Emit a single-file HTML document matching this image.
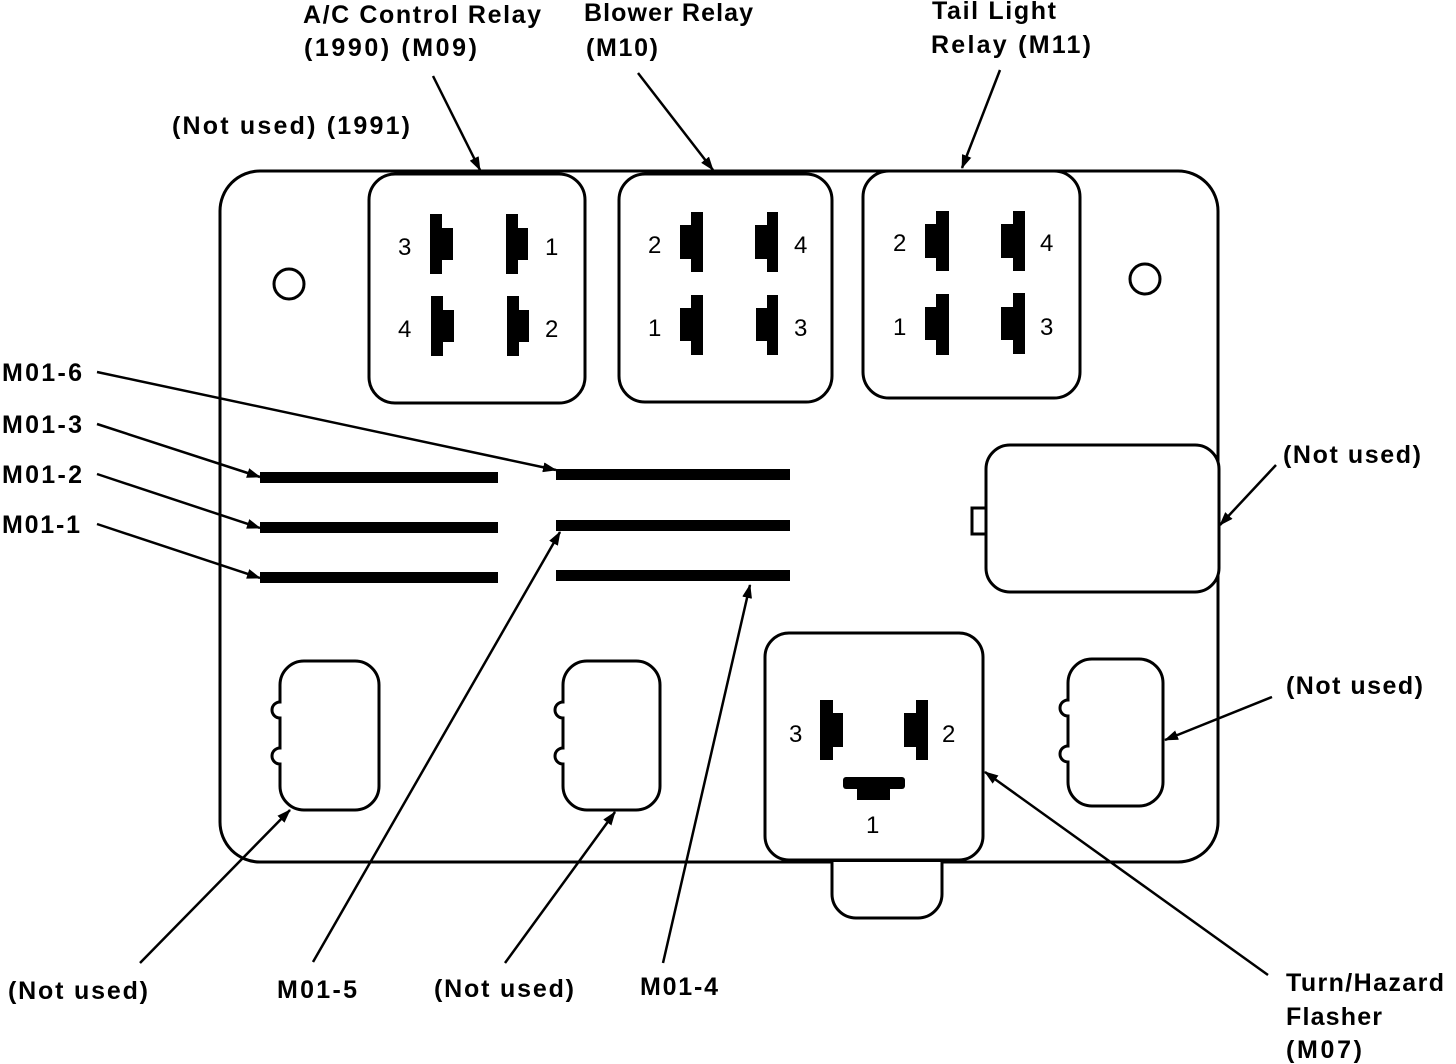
<!DOCTYPE html>
<html><head><meta charset="utf-8"><style>
html,body{margin:0;padding:0;background:#fff}
svg{display:block}
text{font-family:"Liberation Sans",sans-serif;font-weight:bold;font-size:25px;fill:#000}
text.n{font-size:24px;font-weight:normal}
</style></head><body>
<svg width="1456" height="1064" viewBox="0 0 1456 1064" xmlns="http://www.w3.org/2000/svg">
<defs>
<marker id="a" markerWidth="14" markerHeight="10" refX="13" refY="5" orient="auto" markerUnits="userSpaceOnUse">
<path d="M0,0 L14,5 L0,10 Z" fill="#000"/></marker>
</defs>
<g fill="none" stroke="#000" stroke-width="3">
<rect x="220" y="171" width="998" height="691" rx="40"/>
<path d="M832,862 v32 a24,24 0 0 0 24,24 h62 a24,24 0 0 0 24,-24 v-32" fill="#fff"/>
<rect x="369" y="174" width="216" height="229" rx="26" fill="#fff"/>
<rect x="619" y="174" width="213" height="228" rx="26" fill="#fff"/>
<rect x="863" y="171" width="217" height="227" rx="26" fill="#fff"/>
<circle cx="289" cy="284" r="15"/>
<circle cx="1145" cy="279" r="15"/>
<rect x="972" y="508" width="14" height="26"/>
<rect x="986" y="445" width="233" height="147" rx="24" fill="#fff"/>
<rect x="765" y="633" width="218" height="227" rx="24" fill="#fff"/>
<path d="M280,685 a24,24 0 0 1 24,-24 h51 a24,24 0 0 1 24,24 v101 a24,24 0 0 1 -24,24 h-51 a24,24 0 0 1 -24,-24 v-22 a8,8 0 0 1 0,-16 v-30 a8,8 0 0 1 0,-16 z"/>
<path d="M563,685 a24,24 0 0 1 24,-24 h49 a24,24 0 0 1 24,24 v101 a24,24 0 0 1 -24,24 h-49 a24,24 0 0 1 -24,-24 v-22 a8,8 0 0 1 0,-16 v-30 a8,8 0 0 1 0,-16 z"/>
<path d="M1068,683 a24,24 0 0 1 24,-24 h47 a24,24 0 0 1 24,24 v99 a24,24 0 0 1 -24,24 h-47 a24,24 0 0 1 -24,-24 v-20 a8,8 0 0 1 0,-16 v-30 a8,8 0 0 1 0,-16 z"/>
</g>
<g fill="#000">
<rect x="430" y="214" width="12" height="60"/><rect x="442" y="228" width="11" height="32"/>
<rect x="506" y="214" width="12" height="60"/><rect x="518" y="228" width="10" height="32"/>
<rect x="431" y="296" width="12" height="60"/><rect x="443" y="310" width="11" height="32"/>
<rect x="507" y="296" width="12" height="60"/><rect x="519" y="310" width="10" height="32"/>
<rect x="691" y="212" width="12" height="60"/><rect x="680" y="225" width="11" height="34"/>
<rect x="767" y="212" width="11" height="60"/><rect x="755" y="225" width="12" height="34"/>
<rect x="691" y="295" width="12" height="60"/><rect x="680" y="308" width="11" height="33"/>
<rect x="767" y="295" width="11" height="60"/><rect x="756" y="308" width="11" height="33"/>
<rect x="936" y="211" width="13" height="60"/><rect x="925" y="224" width="11" height="34"/>
<rect x="1013" y="211" width="12" height="60"/><rect x="1001" y="224" width="12" height="34"/>
<rect x="936" y="294" width="13" height="61"/><rect x="925" y="307" width="11" height="33"/>
<rect x="1013" y="293" width="12" height="61"/><rect x="1001" y="307" width="12" height="33"/>
<rect x="820" y="700" width="13" height="60"/><rect x="833" y="713" width="10" height="34"/>
<rect x="916" y="700" width="12" height="60"/><rect x="904" y="713" width="12" height="34"/>
<rect x="843" y="777" width="62" height="12" rx="3"/><rect x="857" y="788" width="33" height="12"/>
<rect x="260" y="472" width="238" height="11"/>
<rect x="260" y="522" width="238" height="11"/>
<rect x="260" y="572" width="238" height="11"/>
<rect x="556" y="469" width="234" height="11"/>
<rect x="556" y="520" width="234" height="11"/>
<rect x="556" y="570" width="234" height="11"/>
</g>
<g stroke="#000" stroke-width="2.5" fill="none" marker-end="url(#a)">
<line x1="433" y1="76" x2="480" y2="170"/>
<line x1="638" y1="73" x2="713" y2="170"/>
<line x1="1000" y1="70" x2="962" y2="168"/>
<line x1="97" y1="372" x2="556" y2="470"/>
<line x1="97" y1="424" x2="260" y2="477"/>
<line x1="97" y1="474" x2="260" y2="528"/>
<line x1="97" y1="524" x2="260" y2="578"/>
<line x1="1276" y1="465" x2="1220" y2="525"/>
<line x1="1272" y1="697" x2="1165" y2="740"/>
<line x1="140" y1="963" x2="290" y2="810"/>
<line x1="313" y1="962" x2="560" y2="532"/>
<line x1="505" y1="963" x2="615" y2="812"/>
<line x1="663" y1="963" x2="750" y2="585"/>
<line x1="1268" y1="975" x2="985" y2="772"/>
</g>
<g>
<text x="303" y="23" textLength="238">A/C Control Relay</text>
<text x="304" y="56" textLength="173">(1990)  (M09)</text>
<text x="172" y="134" textLength="238">(Not used)  (1991)</text>
<text x="584" y="21" textLength="169">Blower Relay</text>
<text x="586" y="56" textLength="72">(M10)</text>
<text x="932" y="19" textLength="124">Tail Light</text>
<text x="931" y="53" textLength="160">Relay (M11)</text>
<text x="2" y="381" textLength="80">M01-6</text>
<text x="2" y="433" textLength="80">M01-3</text>
<text x="2" y="483" textLength="80">M01-2</text>
<text x="2" y="533" textLength="78">M01-1</text>
<text x="1283" y="463" textLength="138">(Not used)</text>
<text x="1286" y="694" textLength="137">(Not used)</text>
<text x="8" y="999" textLength="140">(Not used)</text>
<text x="277" y="998" textLength="80">M01-5</text>
<text x="434" y="997" textLength="140">(Not used)</text>
<text x="640" y="995" textLength="78">M01-4</text>
<text x="1286" y="991" textLength="158">Turn/Hazard</text>
<text x="1286" y="1025" textLength="96">Flasher</text>
<text x="1286" y="1058" textLength="76">(M07)</text>
<text class="n" x="398" y="255">3</text><text class="n" x="545" y="255">1</text>
<text class="n" x="398" y="337">4</text><text class="n" x="545" y="337">2</text>
<text class="n" x="648" y="253">2</text><text class="n" x="794" y="253">4</text>
<text class="n" x="648" y="336">1</text><text class="n" x="794" y="336">3</text>
<text class="n" x="893" y="251">2</text><text class="n" x="1040" y="251">4</text>
<text class="n" x="893" y="335">1</text><text class="n" x="1040" y="335">3</text>
<text class="n" x="789" y="742">3</text><text class="n" x="942" y="742">2</text>
<text class="n" x="866" y="833">1</text>
</g>
</svg>
</body></html>
